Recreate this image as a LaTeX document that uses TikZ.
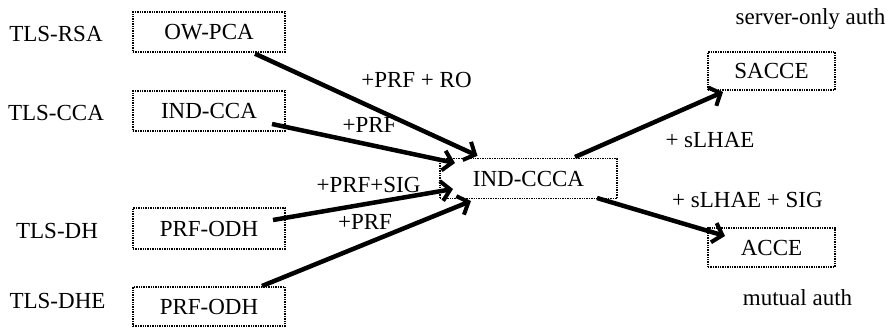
\documentclass[tikz,border=0pt]{standalone}
\usepackage{fontspec}
\setmainfont{Liberation Serif}
\usetikzlibrary{arrows.meta}
\begin{document}
\begin{tikzpicture}[x=1pt,y=-1pt,
  every node/.style={font=\fontsize{23}{27}\selectfont, inner sep=0pt},
  box/.style={draw, densely dotted, line width=1.4pt, minimum height=40pt},
  lbl/.style={anchor=base},
  conn/.style={line width=4.5pt, -{Straight Barb[length=9pt,width=20pt,line width=4pt]}}]
\useasboundingbox (0,0) rectangle (891,329);
% boxes
\node[box, minimum width=152pt] (owpca) at (209,32) {OW-PCA};
\node[box, minimum width=152pt] (indcca) at (209,111) {IND-CCA};
\node[box, minimum width=152pt, minimum height=41pt] (odha) at (209,228.5) {PRF-ODH};
\node[box, minimum width=152pt, minimum height=39pt] (odhb) at (209,306.5) {PRF-ODH};
\node[box, minimum width=177pt] (ccca) at (528.5,178.5) {IND-CCCA};
\node[box, minimum width=127pt, minimum height=38pt] (sacce) at (771.5,71) {SACCE};
\node[box, minimum width=127pt, minimum height=39pt] (acce) at (771.5,247.5) {ACCE};
% side labels
\node[lbl] (trsa) at (56,42) {TLS-RSA};
\node[lbl] (tcca) at (56,120) {TLS-CCA};
\node[lbl] (tdh) at (57,238) {TLS-DH};
\node[lbl] (tdhe) at (57.5,308) {TLS-DHE};
\node[lbl] (srv) at (810.5,25) {server-only auth};
\node[lbl] (mut) at (797.5,305) {mutual auth};
% arrows
\draw[conn] ([xshift=46pt,yshift=-1pt]owpca.south) -- ([xshift=-51pt,yshift=2pt]ccca.north);
\draw[conn] ([xshift=63pt,yshift=-13pt]indcca.center) -- ([xshift=-73.5pt,yshift=15.5pt]ccca.center);
\draw[conn] ([xshift=64pt,yshift=8.5pt]odha.center) -- ([xshift=-75.5pt,yshift=-10.5pt]ccca.center);
\draw[conn] ([xshift=53pt,yshift=20.5pt]odhb.center) -- ([xshift=-57.5pt,yshift=-22.5pt]ccca.center);
\draw[conn] ([xshift=46.5pt,yshift=21.5pt]ccca.center) -- ([xshift=-48.5pt,yshift=-21pt]sacce.center);
\draw[conn] ([xshift=68.5pt,yshift=-19.5pt]ccca.center) -- ([xshift=-46.5pt,yshift=11.5pt]acce.center);
% arrow labels
\node[lbl] (l1) at (416.5,87) {+PRF + RO};
\node[lbl] (l2) at (369.5,132) {+PRF};
\node[lbl] (l3) at (368.5,192) {+PRF+SIG};
\node[lbl] (l4) at (365,229) {+PRF};
\node[lbl] (l5) at (710,147) {+ sLHAE};
\node[lbl] (l6) at (747.5,207) {+ sLHAE + SIG};
\end{tikzpicture}
\end{document}
